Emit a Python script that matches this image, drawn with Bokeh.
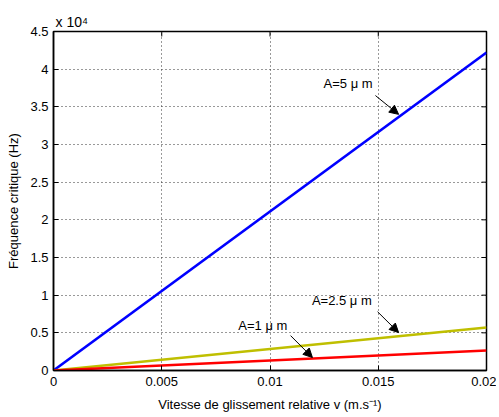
from bokeh.plotting import figure
from bokeh.models import Label, Arrow, NormalHead, FixedTicker, Range1d, Title
from bokeh.embed import file_html
from bokeh.resources import INLINE

v = [0.0, 0.02]
f_a5 = [0.0, 42200.0]
f_a25 = [0.0, 5700.0]
f_a1 = [0.0, 2650.0]

x_ticks = [0, 0.005, 0.01, 0.015, 0.02]
x_tick_labels = ["0", "0.005", "0.01", "0.015", "0.02"]
y_ticks = [0, 5000, 10000, 15000, 20000, 25000, 30000, 35000, 40000, 45000]
y_tick_labels = ["0", "0.5", "1", "1.5", "2", "2.5", "3", "3.5", "4", "4.5"]

labels_text = ["A=5 μ m", "A=2.5 μ m", "A=1 μ m"]
label_xy = [(0.01474, 38100), (0.01470, 9350), (0.01080, 6000)]
arrow_from = [(0.01487, 36500), (0.01497, 7800), (0.01095, 4630)]
arrow_to = [(0.01594, 34000), (0.01594, 5030), (0.01196, 1720)]

FONT = "Liberation Sans"
FS = "13px"
X0, X1, Y0, Y1 = 0.0, 0.02, 0.0, 45000.0
FRAME_W, FRAME_H, TICK = 433, 340, 5

p = figure(width=496, height=414, output_backend="svg", toolbar_location=None,
           x_range=Range1d(X0, X1), y_range=Range1d(Y0, Y1),
           min_border_left=53, min_border_right=10, min_border_top=31, min_border_bottom=43)
p.add_layout(Title(text="x 10⁴", text_font=FONT, text_font_size="14px", text_font_style="normal",
                   text_color="black", offset=2, standoff=3), "above")
p.background_fill_color = "white"
p.border_fill_color = "white"
p.outline_line_color = "black"
p.outline_line_width = 1.5

for ax in (p.xaxis[0], p.yaxis[0]):
    ax.major_tick_in = TICK
    ax.major_tick_out = 0
    ax.minor_tick_in = 0
    ax.minor_tick_out = 0
    ax.axis_line_color = "black"
    ax.axis_line_width = 1.5
    ax.major_label_text_font = FONT
    ax.major_label_text_font_size = FS
    ax.major_label_text_color = "black"
    ax.axis_label_text_font = FONT
    ax.axis_label_text_font_size = FS
    ax.axis_label_text_font_style = "normal"
    ax.axis_label_text_color = "black"

p.xaxis.ticker = FixedTicker(ticks=x_ticks)
p.xaxis.major_label_overrides = {t: l for t, l in zip(x_ticks, x_tick_labels)}
p.yaxis.ticker = FixedTicker(ticks=y_ticks)
p.yaxis.major_label_overrides = {t: l for t, l in zip(y_ticks, y_tick_labels)}
p.xaxis.axis_label = "Vitesse de glissement relative v (m.s⁻¹)"
p.yaxis.axis_label = "Fréquence critique (Hz)"
p.xaxis.major_label_standoff = 6
p.yaxis.major_label_standoff = 5
p.xaxis.axis_label_standoff = 8
p.yaxis.axis_label_standoff = 6

# tick marks on the top and right edges (MATLAB box style)
tlx = (X1 - X0) * TICK / FRAME_W
tly = (Y1 - Y0) * TICK / FRAME_H
p.segment(x0=x_ticks, y0=[Y1] * len(x_ticks), x1=x_ticks, y1=[Y1 - tly] * len(x_ticks),
          line_color="black", line_width=1)
p.segment(x0=[X1] * len(y_ticks), y0=y_ticks, x1=[X1 - tlx] * len(y_ticks), y1=y_ticks,
          line_color="black", line_width=1)

p.xgrid.ticker = FixedTicker(ticks=x_ticks)
p.ygrid.ticker = FixedTicker(ticks=y_ticks)
for g in (p.xgrid[0], p.ygrid[0]):
    g.grid_line_color = "#333333"
    g.grid_line_dash = "1 3"
    g.grid_line_width = 1

p.line(v, f_a5, line_color="#0000FF", line_width=2.5)
p.line(v, f_a25, line_color="#BFBF00", line_width=2.5)
p.line(v, f_a1, line_color="#FF0000", line_width=2.5)

for t, (lx, ly), (xa, ya), (xb, yb) in zip(labels_text, label_xy, arrow_from, arrow_to):
    p.add_layout(Label(x=lx, y=ly, text=t, text_align="right", text_baseline="middle",
                       text_font=FONT, text_font_size=FS, text_color="black"))
    p.add_layout(Arrow(x_start=xa, y_start=ya, x_end=xb, y_end=yb, line_width=1,
                       line_color="black",
                       end=NormalHead(size=9, fill_color="black", line_color="black", line_width=1)))

open("out.html", "w").write(file_html(p, INLINE))
